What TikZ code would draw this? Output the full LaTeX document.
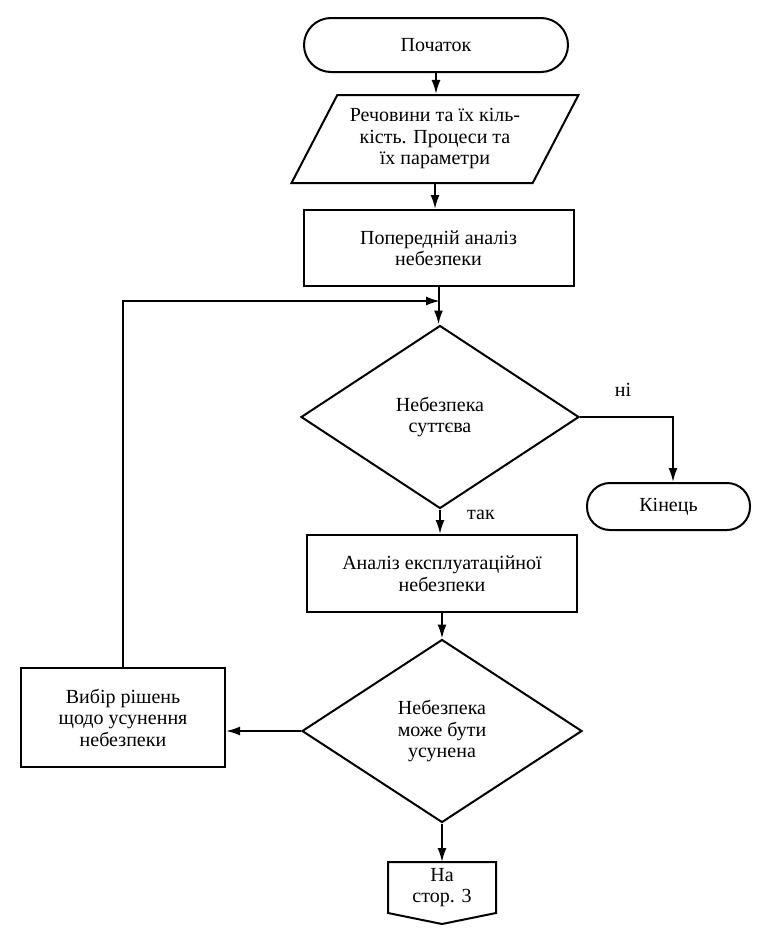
\documentclass[tikz,border=0pt]{standalone}
\usepackage{fontspec}
\setmainfont{Liberation Serif}
\usetikzlibrary{shapes.geometric,arrows.meta,calc}
\begin{document}
\begin{tikzpicture}[x=1pt,y=-1pt,
  every node/.style={font=\fontsize{20}{21.5}\selectfont, align=center, line width=2pt},
  line/.style={draw, line width=2pt},
  arr/.style={line, -{Latex[length=14pt,width=9pt]}},
  term/.style={draw, rounded corners=23pt, inner sep=0pt},
  box/.style={draw, rectangle, inner sep=0pt},
  dec/.style={draw, diamond, inner sep=0pt},
  io/.style={draw, trapezium, trapezium left angle=56.6, trapezium right angle=123.4, trapezium stretches=true, inner sep=0pt},
  lbl/.style={font=\fontsize{20}{21.5}\selectfont}
]
\useasboundingbox (0,0) rectangle (765,932);
\fill[white] (0,0) rectangle (765,932);

\node[term, minimum width=264pt, minimum height=54pt, rounded corners=27pt] (start) at (436,45) {Початок};
\node[io, minimum width=287pt, minimum height=88pt] (io) at (435,139) {Речовини та їх кіль-\\кість. Процеси та\\їх параметри};
\node[box, minimum width=270pt, minimum height=76pt] (pre) at (438.5,248) {Попередній аналіз\\небезпеки};
\node[dec, minimum width=278pt, minimum height=183pt] (d1) at (440,417) {Небезпека\\суттєва};
\node[term, minimum width=163pt, minimum height=47pt] (end) at (668.5,506.5) {Кінець};
\node[box, minimum width=270pt, minimum height=77pt] (expl) at (442,573.5) {Аналіз експлуатаційної\\небезпеки};
\node[dec, minimum width=280pt, minimum height=183pt] (d2) at (442,731) {Небезпека\\може бути\\усунена};
\node[box, minimum width=204pt, minimum height=99pt] (sel) at (123,717.5) {Вибір рішень\\щодо усунення\\небезпеки};
\node[inner sep=0pt, minimum width=106pt, minimum height=49pt] (off) at (442,887.5) {На\\стор. 3};
\draw[line] (off.north west) -- (off.north east) -- (off.south east) -- ($(off.south)+(0,11)$) -- (off.south west) -- cycle;

\coordinate (merge) at (440,301);
\coordinate (turn) at (673,417);

\draw[arr] (start.south) -- (start.south |- io.north);
\draw[arr] (io.south) -- (io.south |- pre.north);
\draw[arr] (pre.south) -- (pre.south |- d1.north);
\draw[arr] (sel.north) |- (merge);
\draw[arr] (d1.east) -- (turn) -- (end.north -| turn);
\draw[arr] (d1.south) -- (d1.south |- expl.north);
\draw[arr] (expl.south) -- (expl.south |- d2.north);
\draw[arr] (d2.west) -- (d2.west -| sel.east);
\draw[arr] (d2.south) -- (off.north);

\node[lbl] (no) at (623,390) {ні};
\node[lbl] (yes) at (481,515) {так};
\end{tikzpicture}
\end{document}
